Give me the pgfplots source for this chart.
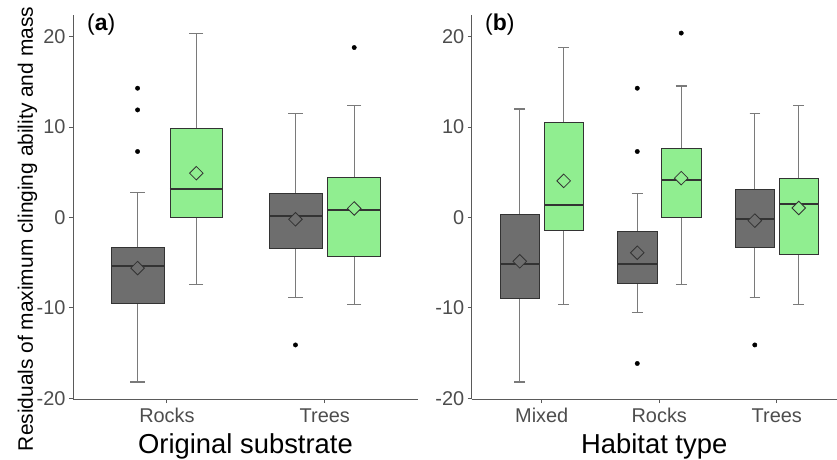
\documentclass[border=0pt]{standalone}
\usepackage{fontspec}
\setmainfont{Liberation Sans}
\usepackage{pgfplots}
\pgfplotsset{compat=1.18}
\usepgfplotslibrary{statistics}
\definecolor{darkfill}{HTML}{6E6E6E}
\definecolor{greenfill}{HTML}{90EE90}
\definecolor{edge}{HTML}{333333}
\definecolor{whisk}{HTML}{7A7A7A}
\definecolor{axgrey}{HTML}{5A5A5A}
\definecolor{tickgrey}{HTML}{4D4D4D}

% box: fill, position, lower whisker, Q1, median, Q3, upper whisker
\newcommand\gbox[7]{%
  \addplot[draw=edge, fill=#1, line width=0.7bp,
    boxplot prepared={draw direction=y, draw position=#2, lower whisker=#3, lower quartile=#4,
      median=#5, upper quartile=#6, upper whisker=#7}] coordinates {};}

\pgfplotsset{
  panel/.style={
    scale only axis, height=384bp, ymin=-20.08, ymax=22.4,
    axis lines=left, axis line style={-, draw=axgrey, line width=0.9bp},
    tick align=outside, major tick length=4bp,
    tick style={draw=axgrey, line width=0.9bp},
    ytick={-20,-10,0,10,20}, xtick={1,2,3},
    /pgf/number format/assume math mode=true,
    ticklabel style={font=\fontsize{20}{22}\selectfont, text=tickgrey},
    xticklabel style={yshift=-2bp},
    xlabel style={font=\fontsize{27.5}{30}\selectfont, at={(axis description cs:0.5,0)},
      anchor=base, yshift=-54bp},
    boxplot/draw direction=y,
    boxplot/box extend=0.335, boxplot/whisker extend=0.09,
    boxplot/every whisker/.style={draw=whisk, line width=1.1bp},
    boxplot/every median/.style={draw=edge, line width=2bp},
    clip=false,
  },
  outl/.style={only marks, mark=*, mark size=2.2bp, black},
  meanm/.style={only marks, mark=square*, mark size=4.8bp,
    mark options={rotate=45, fill=#1, draw=edge, line width=0.8bp}},
}

\begin{document}
\begin{tikzpicture}
\useasboundingbox (-73bp,-61bp) rectangle (764bp,399bp);

\begin{axis}[panel, width=345bp, xmin=0.405, xmax=2.59,
  xticklabels={Rocks,Trees}, xlabel={Original substrate}]
\gbox{darkfill}{0.814}{-18.2}{-9.45}{-5.35}{-3.3}{2.8}
\gbox{greenfill}{1.186}{-7.4}{0.0}{3.2}{9.85}{20.4}
\gbox{darkfill}{1.814}{-8.85}{-3.4}{0.2}{2.7}{11.5}
\gbox{greenfill}{2.186}{-9.6}{-4.25}{0.8}{4.4}{12.4}
\addplot[outl] coordinates {(0.814,14.3) (0.814,11.9) (0.814,7.3) (1.814,-14.1) (2.186,18.8)};
\addplot[meanm=darkfill] coordinates {(0.814,-5.6) (1.814,-0.2)};
\addplot[meanm=greenfill] coordinates {(1.186,4.9) (2.186,1.0)};
\end{axis}

\begin{axis}[panel, at={(398.7bp,0)}, width=365bp, xmin=0.404, xmax=3.51,
  xticklabels={Mixed,Rocks,Trees}, xlabel={Habitat type}]
\gbox{darkfill}{0.813}{-18.2}{-9.0}{-5.15}{0.33}{12.0}
\gbox{greenfill}{1.187}{-9.6}{-1.4}{1.35}{10.5}{18.85}
\gbox{darkfill}{1.813}{-10.55}{-7.3}{-5.1}{-1.5}{2.7}
\gbox{greenfill}{2.187}{-7.4}{0.0}{4.1}{7.65}{14.55}
\gbox{darkfill}{2.813}{-8.85}{-3.3}{-0.2}{3.1}{11.5}
\gbox{greenfill}{3.187}{-9.6}{-4.1}{1.45}{4.35}{12.4}
\addplot[outl] coordinates {(1.813,14.3) (1.813,7.3) (1.813,-16.15) (2.187,20.4) (2.813,-14.1)};
\addplot[meanm=darkfill] coordinates {(0.813,-4.85) (1.813,-3.9) (2.813,-0.35)};
\addplot[meanm=greenfill] coordinates {(1.187,4.05) (2.187,4.35) (3.187,1.05)};
\end{axis}

\node[rotate=90, anchor=base, font=\fontsize{21}{23}\selectfont]
  at (-40bp,170bp) {Residuals of maximum clinging ability and mass};
\node[anchor=west, inner sep=0pt, font=\fontsize{23}{25}\selectfont] at (14bp,374bp) {(\textbf{a})};
\node[anchor=west, inner sep=0pt, font=\fontsize{23}{25}\selectfont] at (412bp,374bp) {(\textbf{b})};
\end{tikzpicture}
\end{document}
